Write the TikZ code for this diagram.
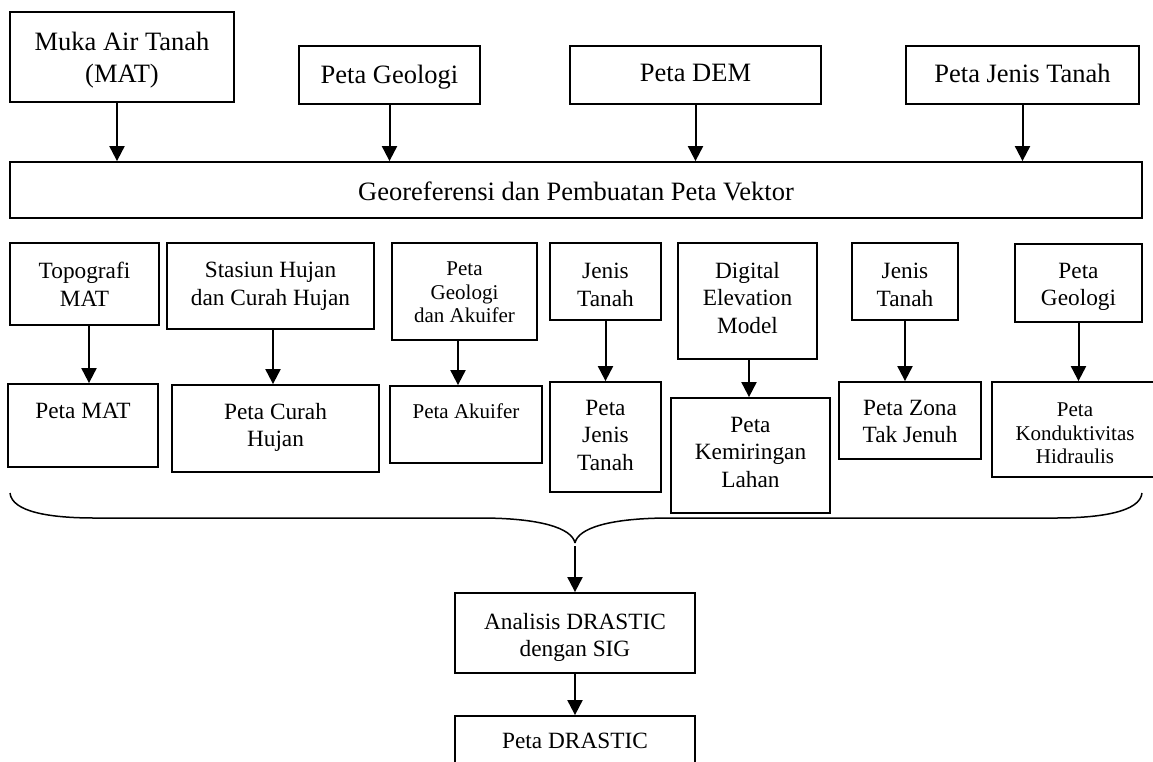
\documentclass[tikz,border=0pt]{standalone}
\usepackage{fontspec}
\setmainfont{Liberation Serif}
\usetikzlibrary{arrows.meta,fit}
\tikzset{
  box/.style={draw, line width=1.8pt, inner sep=0pt},
  big/.style={font=\fontsize{26.5}{32}\selectfont, align=center, inner sep=0pt, anchor=north},
  mid/.style={font=\fontsize{23.3}{27.5}\selectfont, align=center, inner sep=0pt, anchor=north},
  sml/.style={font=\fontsize{21}{23.5}\selectfont, align=center, inner sep=0pt, anchor=north},
  arr/.style={line width=2pt, -{Triangle[length=15pt,width=15pt]}},
  brace/.style={line width=1.5pt}
}
\begin{document}
\begin{tikzpicture}[x=1pt,y=-1pt]
\useasboundingbox (0,0) rectangle (1153,761);
% top row
\node[box, fit={(10,12) (234,102)}] (muka) {};
\node[box, fit={(299,46) (480,104)}] (pgeo) {};
\node[box, fit={(570,46) (821,104)}] (pdem) {};
\node[box, fit={(906,46) (1139,104)}] (pjt) {};
\node[box, fit={(10,162) (1142,218)}] (geo) {};
\node[big] (tmuka) at (muka.north |- 0,32) {Muka Air Tanah\\(MAT)};
\node[big] (tpgeo) at (pgeo.north |- 0,65) {Peta Geologi};
\node[big] (tpdem) at (pdem.north |- 0,64) {Peta DEM};
\node[big] (tpjt) at (pjt.north |- 0,64) {Peta Jenis Tanah};
\node[big] (tgeo) at (geo.north |- 0,182) {Georeferensi dan Pembuatan Peta Vektor};
\draw[arr] ([xshift=-5pt]muka.south) -- ([xshift=-5pt]muka.south |- geo.north);
\draw[arr] (pgeo.south) -- (pgeo.south |- geo.north);
\draw[arr] (pdem.south) -- (pdem.south |- geo.north);
\draw[arr] (pjt.south) -- (pjt.south |- geo.north);
% second row
\node[box, fit={(10,243) (159,325)}] (topo) {};
\node[box, fit={(167,243) (374,329)}] (stas) {};
\node[box, fit={(392,243) (537,340)}] (geoak) {};
\node[box, fit={(550,243) (661,320)}] (jt1) {};
\node[box, fit={(678,243) (817,359)}] (dem) {};
\node[box, fit={(852,243) (958,320)}] (jt2) {};
\node[box, fit={(1015,244) (1142,322)}] (geo2) {};
\node[mid] (ttopo) at (topo.north |- 0,262) {Topografi\\MAT};
\node[mid] (tstas) at (stas.north |- 0,262) {Stasiun Hujan\\dan Curah Hujan};
\node[sml] (tgeoak) at (geoak.north |- 0,262) {Peta\\Geologi\\dan Akuifer};
\node[mid] (tjt1) at (jt1.north |- 0,263) {Jenis\\Tanah};
\node[mid] (tdem) at (dem.north |- 0,262) {Digital\\Elevation\\Model};
\node[mid] (tjt2) at (jt2.north |- 0,263) {Jenis\\Tanah};
\node[mid] (tgeo2) at (geo2.north |- 0,263) {Peta\\Geologi};
% third row
\node[box, fit={(8,384) (158,467)}] (pmat) {};
\node[box, fit={(172,385) (379,472)}] (pch) {};
\node[box, fit={(390,386) (542,463)}] (pak) {};
\node[box, fit={(550,382) (661,492)}] (pjt3) {};
\node[box, fit={(671,398) (830,513)}] (pkl) {};
\node[box, fit={(839,382) (981,459)}] (pzt) {};
\node[box, fit={(992,382) (1165,477)}] (pkh) {};
\node[mid] (tpmat) at (pmat.north |- 0,403) {Peta MAT};
\node[mid] (tpch) at (pch.north |- 0,403) {Peta Curah\\Hujan};
\node[sml] (tpak) at (pak.north |- 0,404) {Peta Akuifer};
\node[mid] (tpjt3) at (pjt3.north |- 0,400) {Peta\\Jenis\\Tanah};
\node[mid] (tpkl) at (pkl.north |- 0,417) {Peta\\Kemiringan\\Lahan};
\node[mid] (tpzt) at (pzt.north |- 0,400) {Peta Zona\\Tak Jenuh};
\node[sml] (tpkh) at (1075,403) {Peta\\Konduktivitas\\Hidraulis};
\draw[arr] ([xshift=4.5pt]topo.south) -- ([xshift=4.5pt]topo.south |- pmat.north);
\draw[arr] ([xshift=2.5pt]stas.south) -- ([xshift=2.5pt]stas.south |- pch.north);
\draw[arr] ([xshift=-6.5pt]geoak.south) -- ([xshift=-6.5pt]geoak.south |- pak.north);
\draw[arr] (jt1.south) -- (jt1.south |- pjt3.north);
\draw[arr] ([xshift=1.5pt]dem.south) -- ([xshift=1.5pt]dem.south |- pkl.north);
\draw[arr] (jt2.south) -- (jt2.south |- pzt.north);
\draw[arr] (geo2.south) -- (geo2.south |- pkh.north);
% brace
\coordinate (bt) at (575,543);
\draw[brace] (10,493) .. controls (12,512) and (50,518) .. (95,518) -- (480,518)
  .. controls (540,518) and (572,528) .. (bt);
\draw[brace] (1142,493) .. controls (1140,512) and (1100,518) .. (1055,518) -- (670,518)
  .. controls (610,518) and (578,528) .. (bt);
% bottom
\node[box, fit={(455,593) (695,673)}] (ana) {};
\node[box, fit={(455,716) (695,800)}] (pdr) {};
\node[mid] (tana) at (ana.north |- 0,613) {Analisis DRASTIC\\dengan SIG};
\node[mid] (tpdr) at (pdr.north |- 0,733) {Peta DRASTIC};
\coordinate (bs) at (575,546);
\draw[arr] (bs) -- (bs |- ana.north);
\draw[arr] (ana.south) -- (pdr.north);
\end{tikzpicture}
\end{document}
